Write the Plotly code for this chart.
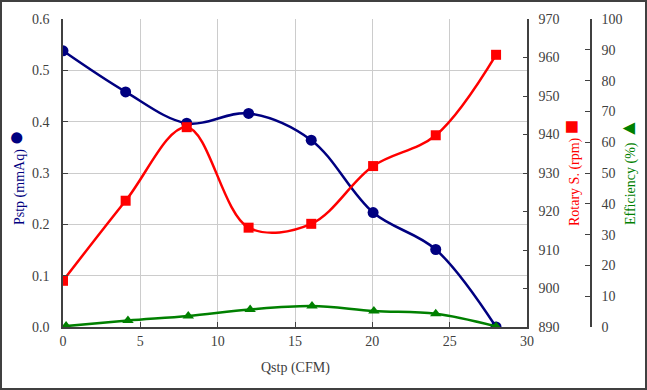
import plotly.graph_objects as go

# ---- data ----
q_pstp = [0.0, 4.05, 8.0, 12.0, 16.05, 20.05, 24.1, 28.0]
pstp = [0.538, 0.458, 0.397, 0.416, 0.364, 0.223, 0.151, 0.0]

q_rot = [0.0, 4.05, 8.0, 12.0, 16.05, 20.05, 24.1, 28.0]
rotary = [902.0, 922.8, 941.9, 915.8, 916.8, 931.8, 939.8, 960.7]

q_eff = [0.2, 4.2, 8.1, 12.1, 16.1, 20.1, 24.1, 28.0]
efficiency = [0.3, 2.1, 3.6, 5.7, 6.8, 5.2, 4.3, 0.2]

x_ticks = [0, 5, 10, 15, 20, 25, 30]
y1_ticks = [0.0, 0.1, 0.2, 0.3, 0.4, 0.5, 0.6]
y2_ticks = [890, 900, 910, 920, 930, 940, 950, 960, 970]
y3_ticks = [0, 10, 20, 30, 40, 50, 60, 70, 80, 90, 100]

BLUE = "#000080"
RED = "#FF0000"
GREEN = "#008000"
AXC = "#404040"
GRID = "#cccccc"
FONT = "Liberation Serif, Times New Roman, serif"

fig = go.Figure()
fig.add_trace(go.Scatter(x=q_pstp, y=pstp, mode="lines+markers", yaxis="y",
                         line=dict(color=BLUE, width=2.5, shape="spline", smoothing=1.0),
                         marker=dict(symbol="circle", size=11, color=BLUE),
                         showlegend=False))
fig.add_trace(go.Scatter(x=q_rot, y=rotary, mode="lines+markers", yaxis="y2",
                         line=dict(color=RED, width=2.5, shape="spline", smoothing=1.0),
                         marker=dict(symbol="square", size=10, color=RED),
                         showlegend=False))
fig.add_trace(go.Scatter(x=q_eff, y=efficiency, mode="lines+markers", yaxis="y3",
                         line=dict(color=GREEN, width=2.5, shape="spline", smoothing=1.0),
                         marker=dict(symbol="triangle-up", size=10, color=GREEN),
                         showlegend=False))

W, H = 647, 390
L, R, T, B = 63, 56, 19, 63
pw = W - L - R
ph = H - T - B
xdom = (527 - L) / pw

def px(xp):
    return (xp - L) / pw

def py(yp):
    return (H - B - yp) / ph

tickfont = dict(family=FONT, size=14, color=AXC)

fig.update_layout(
    width=W, height=H,
    margin=dict(l=L, r=R, t=T, b=B),
    paper_bgcolor="white", plot_bgcolor="white",
    font=dict(family=FONT, size=14, color=AXC),
    xaxis=dict(domain=[0, xdom], range=[0, 30], tickvals=x_ticks,
               showgrid=True, gridcolor=GRID, gridwidth=1,
               showline=True, linecolor=AXC, linewidth=1.5,
               ticks="inside", ticklen=5, tickcolor=AXC, tickfont=tickfont,
               zeroline=False),
    yaxis=dict(range=[0, 0.6], tickvals=y1_ticks, tickformat=".1f",
               showgrid=True, gridcolor=GRID, gridwidth=1,
               showline=True, linecolor=AXC, linewidth=1.5,
               ticks="inside", ticklen=5, tickcolor=AXC, tickfont=tickfont,
               ticklabelstandoff=9, zeroline=False),
    yaxis2=dict(range=[890, 970], tickvals=y2_ticks, overlaying="y", side="right",
                anchor="x", showgrid=False,
                showline=True, linecolor=AXC, linewidth=1.5,
                ticks="inside", ticklen=4, tickcolor=AXC, tickfont=tickfont,
                ticklabelstandoff=7, zeroline=False),
    yaxis3=dict(range=[0, 100], tickvals=y3_ticks, overlaying="y", side="right",
                anchor="free", position=1.0, showgrid=False,
                showline=True, linecolor=AXC, linewidth=1.5,
                ticks="inside", ticklen=5, tickcolor=AXC, tickfont=tickfont,
                ticklabelstandoff=7, zeroline=False),
    annotations=[
        dict(xref="paper", yref="paper", x=px(16), y=py(178), textangle=-90,
             text="Pstp (mmAq) <span style='font-size:26px'>●</span>",
             showarrow=False, font=dict(family=FONT, size=14, color=BLUE),
             xanchor="center", yanchor="middle"),
        dict(xref="paper", yref="paper", x=px(571), y=py(173), textangle=-90,
             text="Rotary S. (rpm) <span style='font-size:24px'>■</span>",
             showarrow=False, font=dict(family=FONT, size=14, color=RED),
             xanchor="center", yanchor="middle"),
        dict(xref="paper", yref="paper", x=px(628), y=py(172), textangle=-90,
             text="Efficiency (%) <span style='font-size:21px'>▲</span>",
             showarrow=False, font=dict(family=FONT, size=14, color=GREEN),
             xanchor="center", yanchor="middle"),
        dict(xref="paper", yref="paper", x=px(295), y=py(368),
             text="Qstp (CFM)", showarrow=False,
             font=dict(family=FONT, size=14, color=AXC),
             xanchor="center", yanchor="middle"),
    ],
    shapes=[
        dict(type="rect", xref="paper", yref="paper",
             x0=px(1), x1=px(W - 1), y0=py(H - 1), y1=py(1),
             line=dict(color="#404040", width=2), fillcolor="rgba(0,0,0,0)",
             layer="above"),
    ],
)

fig.write_html("out.html",
               config={"displayModeBar": False},
               post_script="document.body.style.margin='0';document.body.style.overflow='hidden';")
